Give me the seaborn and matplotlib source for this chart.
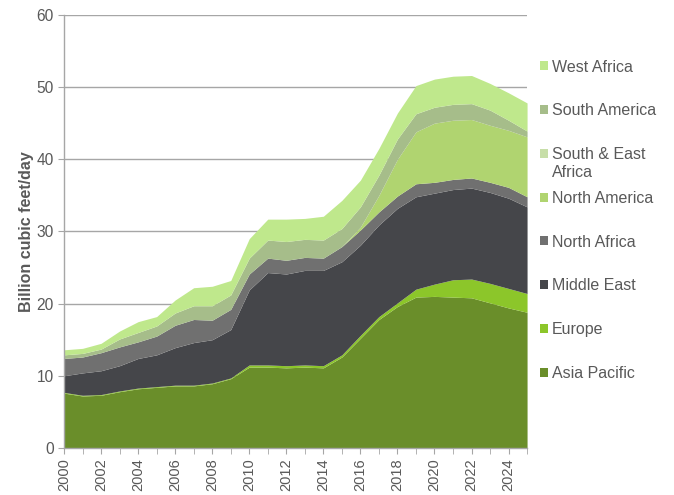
import numpy as np
import pandas as pd
import matplotlib
matplotlib.use("Agg")
from matplotlib import pyplot as plt
from matplotlib.patches import Patch
import seaborn as sns

years = list(range(2000, 2026))

asia_pacific = [7.6, 7.2, 7.3, 7.8, 8.2, 8.4, 8.6, 8.6, 8.9, 9.6, 11.2, 11.2, 11.1,
                11.2, 11.1, 12.6, 15.2, 17.8, 19.6, 20.9, 21.0, 20.9, 20.8, 20.1, 19.4, 18.8]
europe = [0.1, 0.1, 0.1, 0.1, 0.1, 0.1, 0.1, 0.1, 0.1, 0.1, 0.3, 0.3, 0.3,
          0.3, 0.3, 0.3, 0.4, 0.4, 0.5, 1.1, 1.7, 2.4, 2.6, 2.7, 2.7, 2.6]
middle_east = [2.3, 3.1, 3.3, 3.5, 4.1, 4.4, 5.2, 5.9, 6.0, 6.7, 10.4, 12.8, 12.7,
               13.1, 13.2, 12.9, 12.5, 12.7, 13.1, 12.8, 12.6, 12.5, 12.6, 12.6, 12.5, 12.0]
north_africa = [2.4, 2.2, 2.5, 2.6, 2.3, 2.6, 3.1, 3.2, 2.7, 2.8, 2.2, 2.0, 1.9,
                1.8, 1.7, 2.1, 2.1, 1.8, 1.7, 1.8, 1.5, 1.4, 1.4, 1.4, 1.5, 1.4]
north_america = [0, 0, 0, 0, 0, 0, 0, 0, 0, 0, 0, 0, 0,
                 0, 0, 0, 0.4, 2.3, 5.1, 7.2, 8.2, 8.2, 8.1, 7.9, 7.9, 8.3]
south_east_africa = [0] * 26
south_america = [0.5, 0.5, 0.5, 1.1, 1.3, 1.4, 1.7, 1.9, 2.0, 2.0, 2.2, 2.5, 2.6,
                 2.5, 2.5, 2.5, 2.8, 2.8, 2.8, 2.5, 2.2, 2.2, 2.2, 2.1, 1.4, 0.8]
west_africa = [0.7, 0.7, 0.8, 1.1, 1.5, 1.3, 1.8, 2.5, 2.7, 2.0, 2.7, 2.9, 3.1,
               2.9, 3.3, 3.9, 3.7, 3.7, 3.6, 3.9, 3.9, 3.9, 3.9, 3.7, 3.8, 3.9]

regions = ["Asia Pacific", "Europe", "Middle East", "North Africa", "North America",
           "South & East Africa", "South America", "West Africa"]
colors = ["#6a8e2a", "#8cc62a", "#45464a", "#707070", "#b0d470",
          "#c7dea8", "#a6bd8a", "#bfe88c"]

df = pd.DataFrame({
    "Asia Pacific": asia_pacific, "Europe": europe, "Middle East": middle_east,
    "North Africa": north_africa, "North America": north_america,
    "South & East Africa": south_east_africa, "South America": south_america,
    "West Africa": west_africa,
}, index=years)

sns.set_style("white")
plt.rcParams["font.family"] = ["Liberation Sans", "DejaVu Sans"]
text_grey = "#595959"

fig = plt.figure(figsize=(6.74, 4.95), dpi=100)
ax = fig.add_axes([0.095, 0.095, 0.687, 0.875])

ax.stackplot(df.index, [df[r].values for r in regions], colors=colors, linewidth=0)

# gridlines on top of the areas, like the original
ax.grid(axis="y", color="#a6a6a6", linewidth=1)
ax.set_axisbelow(True)

ax.set_xlim(2000, 2025)
ax.set_ylim(0, 60)
ax.set_yticks(range(0, 61, 10))
ax.set_xticks(range(2000, 2026, 2))
ax.set_xticks(range(2000, 2026), minor=True)
ax.tick_params(axis="x", which="both", direction="out", length=4, color="#a6a6a6",
               labelrotation=90, labelsize=10.5, labelcolor=text_grey, bottom=True)
ax.tick_params(axis="y", direction="out", length=4, color="#a6a6a6",
               labelsize=11.2, labelcolor=text_grey, left=True)

sns.despine(ax=ax)
for side in ["left", "bottom"]:
    ax.spines[side].set_color("#a6a6a6")
    ax.spines[side].set_linewidth(1)

ax.set_ylabel("Billion cubic feet/day", fontsize=11.5, weight="bold", color=text_grey,
              labelpad=2)

# legend: Excel-style, the wrapped label overflows its slot
legend_labels = [r if r != "South & East Africa" else "South & East" for r in regions]
handles = [Patch(facecolor=c, edgecolor="none") for c in colors]
leg = ax.legend(handles[::-1], legend_labels[::-1], loc="upper left",
                bbox_to_anchor=(0.996, 0.93), frameon=False, fontsize=11.5,
                labelspacing=1.80, handlelength=0.5, handleheight=0.5,
                handletextpad=0.25, labelcolor=text_grey)
se_text = leg.get_texts()[2]
ax.annotate("Africa", xy=(0, 0), xycoords=se_text, xytext=(0, -18),
            textcoords="offset pixels", ha="left", va="bottom", fontsize=11.5,
            color=text_grey, zorder=10, annotation_clip=False)

plt.savefig("out.png", dpi=100)
